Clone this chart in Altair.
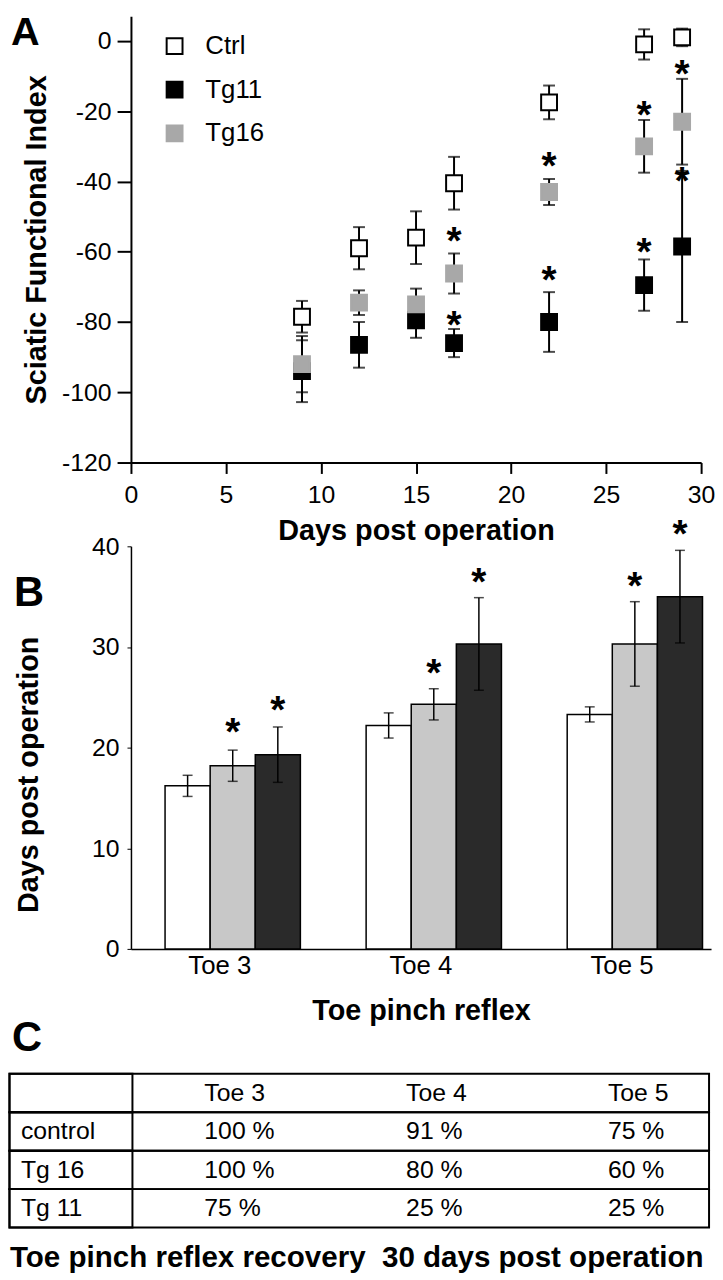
import altair as alt
import pandas as pd

FONT = "Liberation Sans"

# ---------------- Panel A data ----------------
days = [9, 12, 15, 17, 22, 27, 29]
groups_a = ["Ctrl", "Tg11", "Tg16"]
ctrl_mean = [-78.5, -59.0, -56.0, -40.5, -17.5, -1.0, 1.0]
ctrl_err = [4.5, 6.0, 7.5, 7.5, 4.8, 4.3, 2.5]
tg11_mean = [-94.0, -86.5, -79.5, -86.0, -80.0, -69.5, -58.5]
tg11_err = [8.8, 6.5, 5.0, 4.0, 8.5, 7.3, 21.5]
tg16_mean = [-92.0, -74.5, -75.0, -66.2, -43.0, -30.0, -23.0]
tg16_err = [8.0, 3.5, 4.5, 5.7, 3.7, 7.5, 12.2]
a_ticks_x = [0, 5, 10, 15, 20, 25, 30]
a_ticks_y = [-120, -100, -80, -60, -40, -20, 0]
star_a_day = [17, 22, 27, 29, 17, 22, 27, 29]
star_a_y = [-55.0, -33.6, -19.0, -7.6, -79.0, -66.2, -58.2, -37.9]

# ---------------- Panel B data ----------------
toes = ["Toe 3", "Toe 4", "Toe 5"]
groups_b = ["Ctrl", "Tg16", "Tg11"]
b_ctrl = [16.2, 22.2, 23.3]
b_ctrl_err = [1.05, 1.25, 0.75]
b_tg16 = [18.2, 24.3, 30.3]
b_tg16_err = [1.55, 1.55, 4.2]
b_tg11 = [19.3, 30.3, 35.0]
b_tg11_err = [2.75, 4.6, 4.6]
b_ticks_y = [0, 10, 20, 30, 40]
star_b_toe = ["Toe 3", "Toe 3", "Toe 4", "Toe 4", "Toe 5", "Toe 5"]
star_b_group = ["Tg16", "Tg11", "Tg16", "Tg11", "Tg16", "Tg11"]
star_b_y = [22.2, 24.4, 28.1, 37.1, 36.7, 41.9]

# ---------------- Panel C data ----------------
table_cols = ["Toe 3", "Toe 4", "Toe 5"]
table_rows = ["control", "Tg 16", "Tg 11"]
table_vals = [["100 %", "91 %", "75 %"],
              ["100 %", "80 %", "60 %"],
              ["75 %", "25 %", "25 %"]]
caption = "Toe pinch reflex recovery \u00a030 days post operation"

# ---------------- Build tables ----------------
rows_a = []
for g, ms, es in zip(groups_a, [ctrl_mean, tg11_mean, tg16_mean], [ctrl_err, tg11_err, tg16_err]):
    for d, m, e in zip(days, ms, es):
        rows_a.append({"group": g, "day": d, "mean": m, "lo": m - e, "hi": m + e})
dfa = pd.DataFrame(rows_a)
df_star_a = pd.DataFrame({"day": star_a_day, "y": star_a_y})

rows_b = []
for g, ms, es in zip(groups_b, [b_ctrl, b_tg16, b_tg11], [b_ctrl_err, b_tg16_err, b_tg11_err]):
    for t, m, e in zip(toes, ms, es):
        rows_b.append({"grp": g, "toe": t, "val": m, "lo": m - e, "hi": m + e})
dfb = pd.DataFrame(rows_b)
df_star_b = pd.DataFrame({"toe": star_b_toe, "grp": star_b_group, "y": star_b_y})

row_keys = ["hdr"] + table_rows
cells = [{"row": "hdr", "col": c, "txt": c} for c in table_cols]
for r, vals in zip(table_rows, table_vals):
    for c, v in zip(table_cols, vals):
        cells.append({"row": r, "col": c, "txt": v})
df_cells = pd.DataFrame(cells)
df_rows = pd.DataFrame({"row": row_keys, "label": [""] + table_rows})

STAR_FS = 39
STAR_DY = 20

# ---------------- Panel A ----------------
WA, HA = 575, 450
sx_a = alt.Scale(domain=[0, 30], nice=False, zero=False)
sy_a = alt.Scale(domain=[-120, 7], nice=False, zero=False)
ax_x_a = alt.Axis(values=a_ticks_x, title="Days post operation", tickSize=11,
                  labelFontSize=25, labelPadding=9, titleFontSize=29,
                  titleFontWeight="bold", titlePadding=10, domainWidth=2,
                  tickWidth=2, labelFlush=False, labelExpr="'' + datum.value")
ax_y_a = alt.Axis(values=a_ticks_y, title="Sciatic Functional Index", tickSize=14,
                  labelFontSize=25, labelPadding=6, titleFontSize=29,
                  titleFontWeight="bold", titlePadding=10, domainWidth=2,
                  tickWidth=2, labelFlush=False, labelExpr="'' + datum.value")

err_a = alt.Chart(dfa).mark_errorbar(ticks=True, thickness=2, size=12, color="black").encode(
    x=alt.X("day:Q", scale=sx_a, axis=ax_x_a),
    y=alt.Y("lo:Q", scale=sy_a, axis=ax_y_a),
    y2="hi:Q",
)
leg = alt.Legend(title=None, orient="none", legendX=31, legendY=17, symbolType="square",
                 symbolSize=256, symbolStrokeWidth=2, labelFontSize=26, labelFont=FONT,
                 labelOffset=18, rowPadding=18, padding=0, labelColor="black")
pts_a = alt.Chart(dfa).mark_square(size=256, strokeWidth=2, opacity=1).encode(
    x=alt.X("day:Q", scale=sx_a, axis=ax_x_a),
    y=alt.Y("mean:Q", scale=sy_a, axis=ax_y_a),
    fill=alt.Fill("group:N", scale=alt.Scale(domain=groups_a, range=["white", "black", "#a8a8a8"]), legend=leg),
    stroke=alt.Stroke("group:N", scale=alt.Scale(domain=groups_a, range=["black", "black", "#a8a8a8"]), legend=leg),
)
stars_a = alt.Chart(df_star_a).mark_text(text="*", font=FONT, fontWeight="bold", fontSize=STAR_FS,
                                          baseline="alphabetic", dy=STAR_DY, color="black").encode(
    x=alt.X("day:Q", scale=sx_a, axis=ax_x_a),
    y=alt.Y("y:Q", scale=sy_a, axis=ax_y_a),
)
letter_a = alt.Chart(pd.DataFrame({"t": ["A"]})).mark_text(
    font=FONT, fontWeight="bold", fontSize=40, align="left", baseline="alphabetic", color="black"
).encode(text="t:N", x=alt.value(-121), y=alt.value(29))

panel_a = alt.layer(err_a, pts_a, stars_a, letter_a).properties(width=WA, height=HA)

# ---------------- Panel B ----------------
WB, HB = 585, 406
sx_b = alt.Scale(domain=toes, paddingInner=0.327, paddingOuter=0.106, align=0.8)
so_b = alt.Scale(domain=groups_b, paddingInner=0, paddingOuter=0)
sy_b = alt.Scale(domain=[0, 40], nice=False)
ax_x_b = alt.Axis(title="Toe pinch reflex", ticks=False, labelAngle=0, labelOffset=-13,
                  labelFontSize=26, labelPadding=4, titleFontSize=29, titleFontWeight="bold",
                  titlePadding=18, domainWidth=1.5)
ax_y_b = alt.Axis(values=b_ticks_y, title="Days post operation", tickSize=4,
                  labelFontSize=25, labelPadding=8, titleFontSize=29, titleFontWeight="bold",
                  titlePadding=48, titleY=230, domainWidth=1.5, labelFlush=False)
xb = alt.X("toe:N", scale=sx_b, axis=ax_x_b)
xob = alt.XOffset("grp:N", scale=so_b)

bars_b = alt.Chart(dfb).mark_bar(stroke="black", strokeWidth=1.5).encode(
    x=xb, xOffset=xob,
    y=alt.Y("val:Q", scale=sy_b, axis=ax_y_b),
    fill=alt.Fill("grp:N", scale=alt.Scale(domain=groups_b, range=["white", "#c8c8c8", "#2a2a2a"]), legend=None),
)
rule_b = alt.Chart(dfb).mark_rule(strokeWidth=1.5, color="black").encode(
    x=xb, xOffset=xob, y=alt.Y("lo:Q", scale=sy_b, axis=ax_y_b), y2="hi:Q")
caplo_b = alt.Chart(dfb).mark_tick(thickness=1.5, size=10, color="black").encode(
    x=xb, xOffset=xob, y=alt.Y("lo:Q", scale=sy_b, axis=ax_y_b))
caphi_b = alt.Chart(dfb).mark_tick(thickness=1.5, size=10, color="black").encode(
    x=xb, xOffset=xob, y=alt.Y("hi:Q", scale=sy_b, axis=ax_y_b))
stars_b = alt.Chart(df_star_b).mark_text(text="*", font=FONT, fontWeight="bold", fontSize=STAR_FS,
                                          baseline="alphabetic", dy=STAR_DY, color="black").encode(
    x=xb, xOffset=xob, y=alt.Y("y:Q", scale=sy_b, axis=ax_y_b))
letter_b = alt.Chart(pd.DataFrame({"t": ["B"]})).mark_text(
    font=FONT, fontWeight="bold", fontSize=42, align="left", baseline="alphabetic", color="black"
).encode(text="t:N", x=alt.value(-118), y=alt.value(60))

panel_b = alt.layer(bars_b, rule_b, caplo_b, caphi_b, stars_b, letter_b).properties(width=WB, height=HB)

# ---------------- Panel C (table) ----------------
TOP = 41.5
WC, HC = 583, TOP + 155
sy_c = alt.Scale(domain=row_keys, range=[TOP, TOP + 155], paddingInner=0, paddingOuter=0)
sx_c = alt.Scale(type="point", domain=table_cols, range=[74, 481], padding=0)

row_rect = alt.Chart(df_rows).mark_rect(fill="transparent", stroke="black", strokeWidth=2).encode(
    y=alt.Y("row:N", scale=sy_c, axis=None), x=alt.value(-122.5), x2=alt.value(WC))
lab_rect = alt.Chart(df_rows).mark_rect(fill="transparent", stroke="black", strokeWidth=2).encode(
    y=alt.Y("row:N", scale=sy_c, axis=None), x=alt.value(-122.5), x2=alt.value(1.5))
row_txt = alt.Chart(df_rows).mark_text(font=FONT, fontSize=25, align="left", baseline="middle",
                                       color="black").encode(
    y=alt.Y("row:N", scale=sy_c, axis=None), x=alt.value(-111), text="label:N")
cell_txt = alt.Chart(df_cells).mark_text(font=FONT, fontSize=25, align="left", baseline="middle",
                                         color="black").encode(
    y=alt.Y("row:N", scale=sy_c, axis=None),
    x=alt.X("col:N", scale=sx_c, axis=None), text="txt:N")
letter_c = alt.Chart(pd.DataFrame({"t": ["C"]})).mark_text(
    font=FONT, fontWeight="bold", fontSize=42, align="left", baseline="alphabetic", color="black"
).encode(text="t:N", x=alt.value(-120), y=alt.value(TOP - 23))
cap_txt = alt.Chart(pd.DataFrame({"t": [caption]})).mark_text(
    font=FONT, fontWeight="bold", fontSize=29.8, align="left", baseline="alphabetic", color="black"
).encode(text="t:N", x=alt.value(-122), y=alt.value(TOP + 155 + 40))

panel_c = alt.layer(row_rect, lab_rect, row_txt, cell_txt, letter_c, cap_txt).properties(width=WC, height=HC)

chart = alt.vconcat(panel_a, panel_b, panel_c, spacing=84.5, bounds="flush").resolve_scale(
    fill="independent", stroke="independent"
).properties(
    padding={"left": 0, "top": 0, "right": 0, "bottom": 0}
).configure_view(strokeWidth=0).configure_axis(
    grid=False, labelFont=FONT, titleFont=FONT, labelColor="black", titleColor="black",
    domainColor="black", tickColor="black"
).configure_text(font=FONT)

chart.save("out.html", embed_options={"renderer": "svg", "actions": False})
